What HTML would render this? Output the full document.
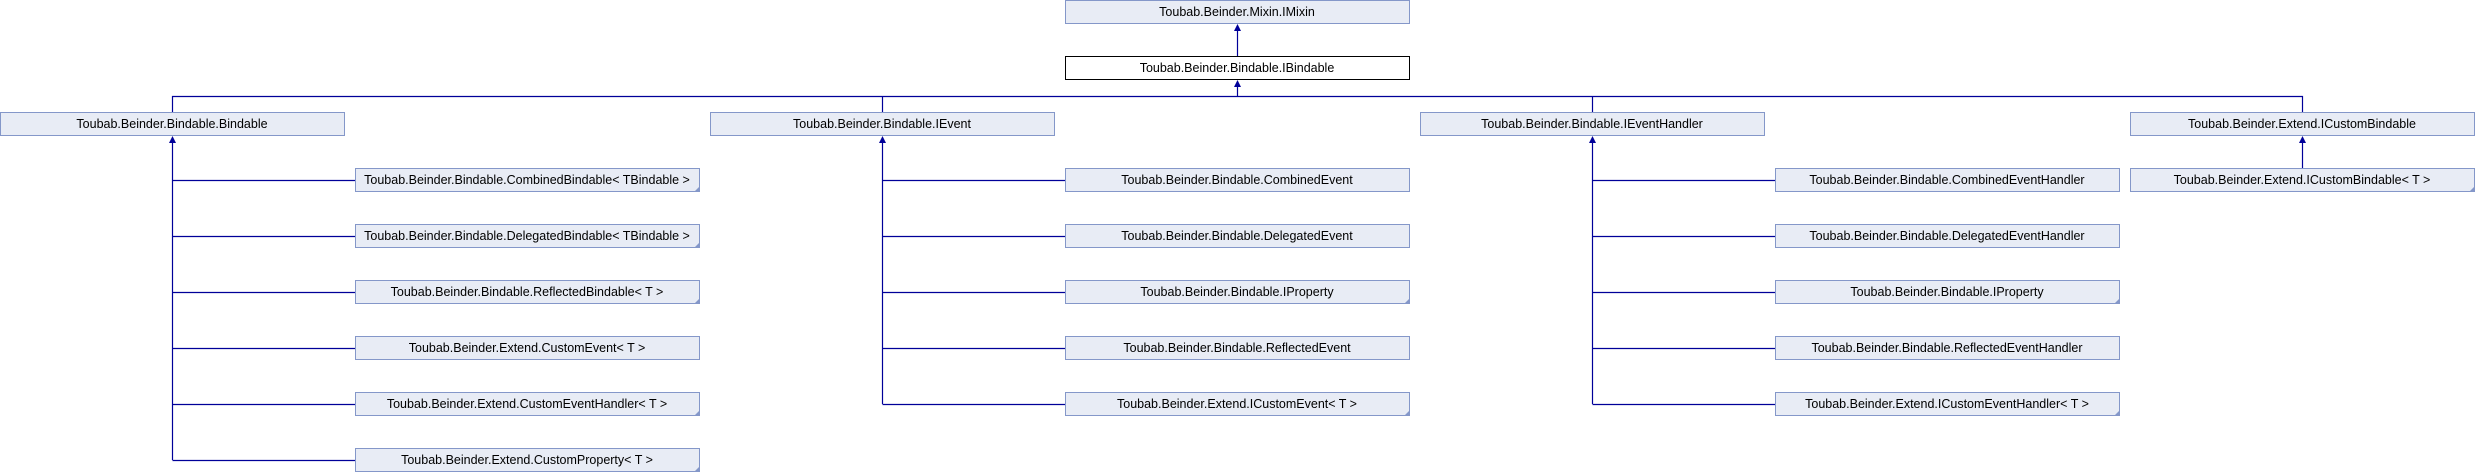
<!DOCTYPE html>
<html><head><meta charset="utf-8"><style>
html,body{margin:0;padding:0;background:#fff;}
svg{display:block;}
text{font-family:"Liberation Sans",Arial,sans-serif;font-size:12.5px;fill:#000;text-anchor:middle;}
.b{fill:#E8ECF5;stroke:#8497C9;stroke-width:1;}
.w{fill:#fff;stroke:#000;stroke-width:1;}
.l{stroke:#000099;stroke-width:1.2;fill:none;}
.a{fill:#000099;}
.c{fill:#8497C9;}
</style></head><body>
<svg width="2475" height="472" viewBox="0 0 2475 472" xmlns="http://www.w3.org/2000/svg">
<!-- top -->
<rect class="b" x="1065.5" y="0.5" width="344" height="23"/>
<text x="1237" y="16">Toubab.Beinder.Mixin.IMixin</text>
<rect class="w" x="1065.5" y="56.5" width="344" height="23"/>
<text x="1237" y="72">Toubab.Beinder.Bindable.IBindable</text>
<path class="l" d="M1237.5 56V29"/><path class="a" d="M1237.5 24l-3.5 7h7z"/>
<path class="l" d="M1237.5 96V85 M172.5 112V96.5H2302.5V112 M882.5 96V112 M1592.5 96V112"/><path class="a" d="M1237.5 80l-3.5 7h7z"/>

<!-- parents -->
<rect class="b" x="0.5" y="112.5" width="344" height="23"/><text x="172" y="128">Toubab.Beinder.Bindable.Bindable</text>
<rect class="b" x="710.5" y="112.5" width="344" height="23"/><text x="882" y="128">Toubab.Beinder.Bindable.IEvent</text>
<rect class="b" x="1420.5" y="112.5" width="344" height="23"/><text x="1592" y="128">Toubab.Beinder.Bindable.IEventHandler</text>
<rect class="b" x="2130.5" y="112.5" width="344" height="23"/><text x="2302" y="128">Toubab.Beinder.Extend.ICustomBindable</text>

<!-- col1 lines -->
<path class="l" d="M172.5 141V460 M172.5 180.5H355 M172.5 236.5H355 M172.5 292.5H355 M172.5 348.5H355 M172.5 404.5H355 M172.5 460.5H355"/>
<path class="a" d="M172.5 136l-3.5 7h7z"/>
<path class="l" d="M882.5 141V404 M882.5 180.5H1065 M882.5 236.5H1065 M882.5 292.5H1065 M882.5 348.5H1065 M882.5 404.5H1065"/>
<path class="a" d="M882.5 136l-3.5 7h7z"/>
<path class="l" d="M1592.5 141V404 M1592.5 180.5H1775 M1592.5 236.5H1775 M1592.5 292.5H1775 M1592.5 348.5H1775 M1592.5 404.5H1775"/>
<path class="a" d="M1592.5 136l-3.5 7h7z"/>
<path class="l" d="M2302.5 141V168"/>
<path class="a" d="M2302.5 136l-3.5 7h7z"/>

<!-- col1 children -->
<rect class="b" x="355.5" y="168.5" width="344" height="23"/><path class="c" d="M700 186v6h-6z"/><text x="527" y="184">Toubab.Beinder.Bindable.CombinedBindable&lt; TBindable &gt;</text>
<rect class="b" x="355.5" y="224.5" width="344" height="23"/><path class="c" d="M700 242v6h-6z"/><text x="527" y="240">Toubab.Beinder.Bindable.DelegatedBindable&lt; TBindable &gt;</text>
<rect class="b" x="355.5" y="280.5" width="344" height="23"/><path class="c" d="M700 298v6h-6z"/><text x="527" y="296">Toubab.Beinder.Bindable.ReflectedBindable&lt; T &gt;</text>
<rect class="b" x="355.5" y="336.5" width="344" height="23"/><text x="527" y="352">Toubab.Beinder.Extend.CustomEvent&lt; T &gt;</text>
<rect class="b" x="355.5" y="392.5" width="344" height="23"/><path class="c" d="M700 410v6h-6z"/><text x="527" y="408">Toubab.Beinder.Extend.CustomEventHandler&lt; T &gt;</text>
<rect class="b" x="355.5" y="448.5" width="344" height="23"/><path class="c" d="M700 466v6h-6z"/><text x="527" y="464">Toubab.Beinder.Extend.CustomProperty&lt; T &gt;</text>

<!-- col2 children -->
<rect class="b" x="1065.5" y="168.5" width="344" height="23"/><text x="1237" y="184">Toubab.Beinder.Bindable.CombinedEvent</text>
<rect class="b" x="1065.5" y="224.5" width="344" height="23"/><text x="1237" y="240">Toubab.Beinder.Bindable.DelegatedEvent</text>
<rect class="b" x="1065.5" y="280.5" width="344" height="23"/><path class="c" d="M1410 298v6h-6z"/><text x="1237" y="296">Toubab.Beinder.Bindable.IProperty</text>
<rect class="b" x="1065.5" y="336.5" width="344" height="23"/><text x="1237" y="352">Toubab.Beinder.Bindable.ReflectedEvent</text>
<rect class="b" x="1065.5" y="392.5" width="344" height="23"/><path class="c" d="M1410 410v6h-6z"/><text x="1237" y="408">Toubab.Beinder.Extend.ICustomEvent&lt; T &gt;</text>

<!-- col3 children -->
<rect class="b" x="1775.5" y="168.5" width="344" height="23"/><text x="1947" y="184">Toubab.Beinder.Bindable.CombinedEventHandler</text>
<rect class="b" x="1775.5" y="224.5" width="344" height="23"/><text x="1947" y="240">Toubab.Beinder.Bindable.DelegatedEventHandler</text>
<rect class="b" x="1775.5" y="280.5" width="344" height="23"/><path class="c" d="M2120 298v6h-6z"/><text x="1947" y="296">Toubab.Beinder.Bindable.IProperty</text>
<rect class="b" x="1775.5" y="336.5" width="344" height="23"/><text x="1947" y="352">Toubab.Beinder.Bindable.ReflectedEventHandler</text>
<rect class="b" x="1775.5" y="392.5" width="344" height="23"/><path class="c" d="M2120 410v6h-6z"/><text x="1947" y="408">Toubab.Beinder.Extend.ICustomEventHandler&lt; T &gt;</text>

<!-- col4 child -->
<rect class="b" x="2130.5" y="168.5" width="344" height="23"/><path class="c" d="M2475 186v6h-6z"/><text x="2302" y="184">Toubab.Beinder.Extend.ICustomBindable&lt; T &gt;</text>
</svg>
</body></html>
